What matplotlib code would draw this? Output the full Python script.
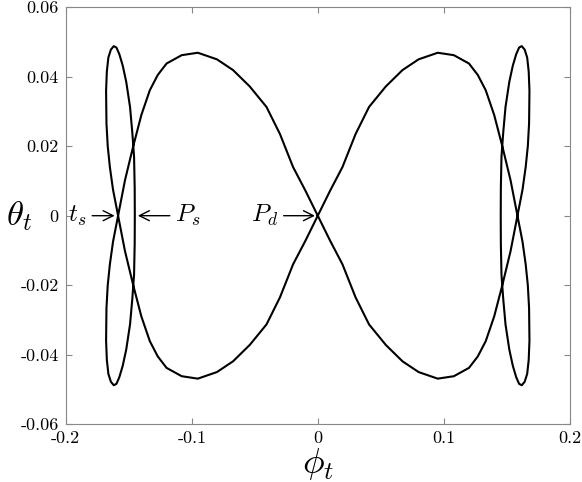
import matplotlib
matplotlib.use("Agg")
import matplotlib.pyplot as plt
import numpy as np

plt.rcParams['mathtext.fontset'] = 'cm'
plt.rcParams['font.family'] = 'cmr10'
plt.rcParams['axes.unicode_minus'] = False

# left half of the orbit:
# origin -> upper lobe -> crossing -> lower loop edge -> bottom tip -> loop right edge at y=0
left_x = [0.0, -0.0098, -0.0196, -0.030, -0.0407, -0.054, -0.0672, -0.080, -0.0952,
          -0.108, -0.120, -0.127, -0.1333, -0.140, -0.1466, -0.153, -0.1585,
          -0.1625, -0.165, -0.1667, -0.1677, -0.168, -0.1674, -0.1662, -0.1642,
          -0.1619, -0.1598, -0.1575, -0.1548, -0.152, -0.149, -0.1472, -0.1458,
          -0.1453, -0.1452]
left_y = [0.0, 0.0072, 0.014, 0.0235, 0.0313, 0.0372, 0.0419, 0.0450, 0.0469,
          0.0462, 0.0438, 0.0405, 0.0361, 0.029, 0.0198, 0.0102, 0.0,
          -0.0075, -0.014, -0.020, -0.0266, -0.036, -0.0415, -0.0455, -0.0478,
          -0.0488, -0.0484, -0.0465, -0.0432, -0.0385, -0.0313, -0.024, -0.017,
          -0.008, 0.0]

xticks = [-0.2, -0.1, 0, 0.1, 0.2]
xticklabels = ['-0.2', '-0.1', '0', '0.1', '0.2']
yticks = [-0.06, -0.04, -0.02, 0, 0.02, 0.04, 0.06]
yticklabels = ['-0.06', '-0.04', '-0.02', '0', '0.02', '0.04', '0.06']

lx = np.array(left_x)
ly = np.array(left_y)
# the upper loop and lower lobe are the traced part mirrored in y; right half mirrored in x
half_x = np.concatenate([lx, lx[::-1][1:]])
half_y = np.concatenate([ly, -ly[::-1][1:]])
full_x = np.concatenate([half_x, -half_x])
full_y = np.concatenate([half_y, half_y])

fig = plt.figure(figsize=(5.82, 4.82), dpi=100)
ax = fig.add_axes([0.113, 0.12, 0.866, 0.865])
ax.plot(full_x, full_y, color='black', linewidth=1.5, solid_joinstyle='round')

ax.set_xlim(-0.2, 0.2)
ax.set_ylim(-0.06, 0.06)
ax.set_xticks(xticks)
ax.set_xticklabels(xticklabels, fontsize=13)
ax.set_yticks(yticks)
ax.set_yticklabels(yticklabels, fontsize=13)
ax.tick_params(direction='in', top=True, right=True, length=4, color='#888888', pad=5)
for s in ax.spines.values():
    s.set_color('#888888')

ax.set_xlabel(r'$\phi_t$', fontsize=26, labelpad=0)
ax.set_ylabel(r'$\theta_t$', fontsize=25, rotation=0, va='center', ha='center')
ax.yaxis.set_label_coords(-0.092, 0.5)

arrow = dict(arrowstyle='->', color='black', lw=1.0)
ax.annotate(r'$t_s$', xy=(-0.159, 0), xytext=(-0.198, 0), fontsize=18,
            va='center', arrowprops=arrow)
ax.annotate(r'$P_s$', xy=(-0.145, 0), xytext=(-0.113, 0), fontsize=18,
            va='center', ha='left', arrowprops=arrow)
ax.annotate(r'$P_d$', xy=(0, 0), xytext=(-0.053, 0), fontsize=18,
            va='center', arrowprops=arrow)

fig.savefig('out.png', dpi=100)
